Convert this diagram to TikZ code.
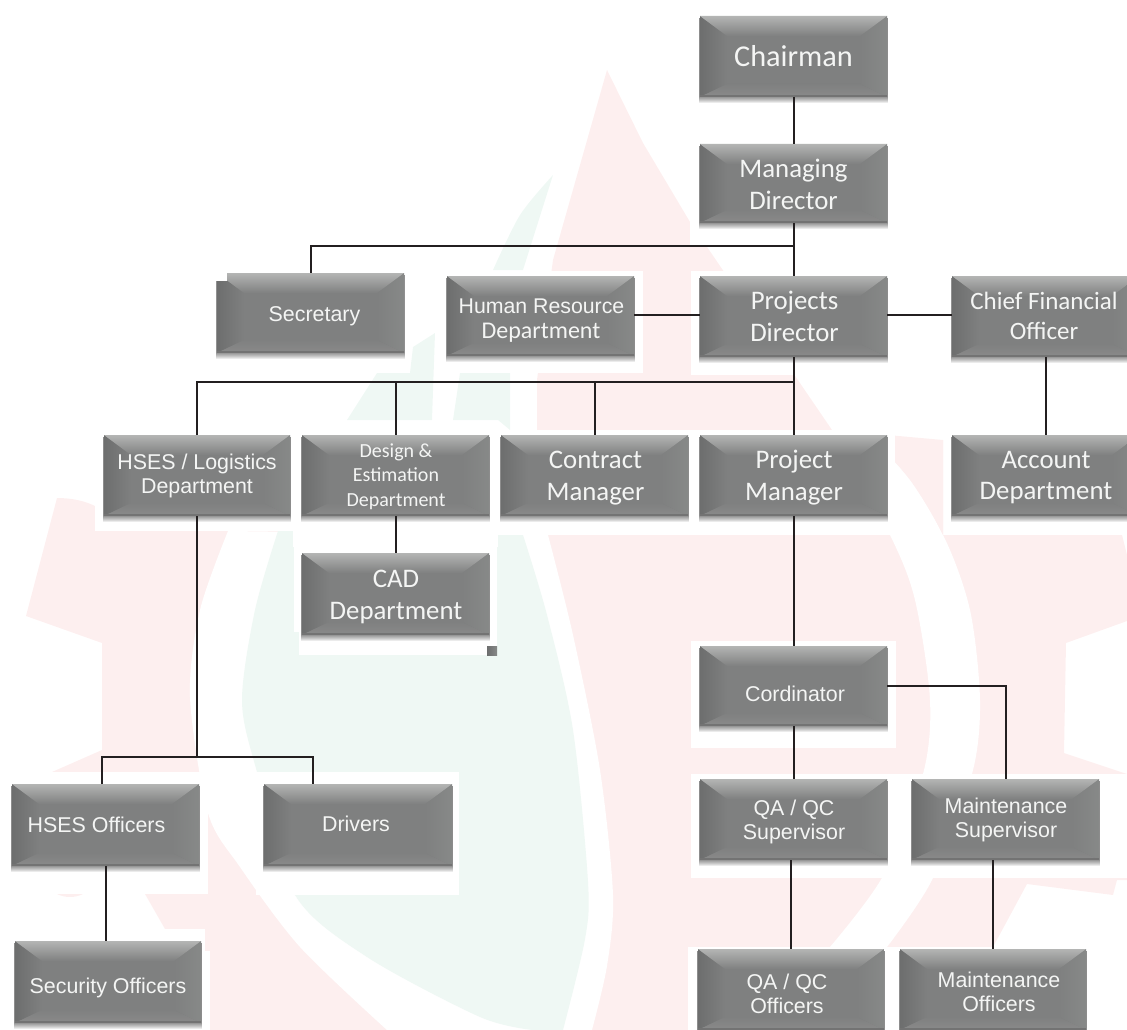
\documentclass[tikz,border=0pt]{standalone}
\usepackage{fontspec}
\setmainfont{Liberation Sans}
\newfontfamily\carl{Carlito}
\definecolor{wpink}{HTML}{FDEFEF}
\definecolor{wgreen}{HTML}{EFF8F4}
\definecolor{linec}{HTML}{231F20}
\definecolor{bfront}{HTML}{7F8080}
\definecolor{btop}{HTML}{B4B5B4}
\definecolor{bleft}{HTML}{6D6E6E}
\definecolor{bright}{HTML}{878988}
\definecolor{bbot}{HTML}{8A8A8A}
\definecolor{bedge}{HTML}{737373}
\definecolor{txtc}{HTML}{F4F5F4}
\newcommand{\gbox}[5]{%
  \foreach \k in {1,...,7}{\fill[black,opacity=.08] (#2-1,#3+2) rectangle (#4+1,#5+\k-1);}
  \fill[bfront] (#2,#3) rectangle (#4,#5);
  \shade[left color=bleft,right color=bfront] (#2,#3) -- (#2+27,#3+20) -- (#2+27,#5-13) -- (#2,#5) -- cycle;
  \shade[left color=bfront,right color=bright] (#4,#3) -- (#4-27,#3+20) -- (#4-27,#5-13) -- (#4,#5) -- cycle;
  \shade[top color=btop,bottom color=bfront] (#2,#3) -- (#4,#3) -- (#4-27,#3+20) -- (#2+27,#3+20) -- cycle;
  \shade[top color=bfront,bottom color=bbot] (#2,#5) -- (#4,#5) -- (#4-27,#5-13) -- (#2+27,#5-13) -- cycle;
  \fill[bedge] (#2,#5-2) rectangle (#4,#5);
  \node[boxframe,minimum width={(#4-#2)*1pt},minimum height={(#5-#3)*1pt}] (#1) at ({(#2+#4)/2},{(#3+#5)/2}) {};
}
\newcommand{\tx}[7]{\node[boxtext,font=#4\fontsize{#5}{#6}\selectfont] (#1) at (#2,#3) {#7};}
\tikzset{
  boxframe/.style={draw=none,inner sep=0pt,outer sep=0pt},
  boxtext/.style={text=txtc,inner sep=0pt,outer sep=0pt,align=center},
  link/.style={draw=linec,line width=2pt}
}
\begin{document}
\begin{tikzpicture}[x=1pt,y=-1pt]
\useasboundingbox (0,0) rectangle (1127,1030);
\clip (0,0) rectangle (1127,1030);
% watermark: outer pink figure
\fill[wpink] (607,70) -- (643,143) -- (690,222) -- (832,430) -- (943,440) -- (943,535) -- (1122,535) -- (1127,555) -- (1127,621) -- (1066,643) -- (1064,753) -- (1127,774) -- (1127,880) -- (1117,880) -- (1113,895) -- (1027,884) -- (993,947) -- (885,947) -- (688,947) -- (688,1030) -- (210,1030) -- (210,951) -- (205,951) -- (205,929) -- (165,929) -- (145,894) -- (130,772) -- (52,772) -- (102,750) -- (102,643) -- (26,616) -- (57,498) .. controls (72,498) and (85,501) .. (95,506) -- (95,531) -- (228,531) -- (537,430) -- (537,380) -- (553,260) -- cycle;
\fill[wpink] (57,894) .. controls (65,898) and (75,898) .. (83,894) -- cycle;
% white bands of the ring
\fill[white] plot[smooth] coordinates {(228,531) (200,610) (190,697) (208,813) (240,867) (300,947) (387,1030)} -- (592,1030) -- plot[smooth] coordinates {(592,1030) (607,966) (613,895) (600,770) (573,635) (548,535)} -- cycle;
\fill[white] plot[smooth] coordinates {(832,430) (895,462) (943,535) (970,610) (980,701) (972,774) (932,880) (887,947)} -- (830,947) -- plot[smooth] coordinates {(830,947) (883,876) (923,774) (930,700) (915,600) (890,535) (832,430)} -- cycle;
\fill[wpink] (895,440) -- (943,440) -- (943,535) -- plot[smooth] coordinates {(943,535) (922,495) (895,462)} -- cycle;
% green drop
\fill[wgreen] plot[smooth] coordinates {(278,531) (255,610) (242,701) (257,772) (295,895) (367,957) (480,1017) (533,1030)} -- (563,1030) -- plot[smooth] coordinates {(563,1030) (585,939) (588,882) (573,730) (547,615) (523,535)} -- cycle;
\fill[wgreen] plot[smooth] coordinates {(553,175) (520,215) (493,270)} -- (523,270) -- cycle;
\fill[wgreen] (435,333) -- (413,347) -- (410,373) -- (377,373) -- (347,420) -- (432,420) -- cycle;
\fill[wgreen] (460,373) -- (510,373) -- (510,430) -- (498,420) -- (453,420) -- cycle;
% white panels behind the boxes
\fill[white] (690,0) rectangle (900,245);
\fill[white] (691,271) rectangle (900,375);
\fill[white] (447,271) rectangle (643,373);
\fill[white] (95,430) rectangle (895,531);
\fill[white] (498,430) rectangle (895,535);
\fill[white] (293,430) rectangle (498,547);
\fill[white] (294,547) rectangle (497,632);
\fill[white] (299,632) rectangle (497,655);
\fill[white] (691,641) rectangle (896,748);
\fill[white] (691,774) rectangle (1127,878);
\fill[white] (688,947) rectangle (1127,1030);
\fill[white] (0,772) rectangle (208,894);
\fill[white] (256,772) rectangle (459,895);
\fill[white] (0,929) rectangle (205,1030);
\fill[white] (0,951) rectangle (210,1030);
% boxes
\gbox{chair}{700}{16}{887}{97}
\gbox{md}{700}{144}{887}{223}
\gbox{pd}{700}{276}{887}{357}
\gbox{cfo}{952}{276}{1139}{357}
\gbox{sec}{217}{273}{404}{353}
\fill[white] (214,268) rectangle (227,281);
\gbox{hr}{447}{276}{634}{356}
\gbox{hsesl}{104}{435}{290}{516}
\gbox{design}{302}{435}{489}{516}
\gbox{contract}{501}{435}{688}{516}
\gbox{pm}{700}{435}{887}{516}
\gbox{acct}{952}{435}{1139}{516}
\gbox{cad}{302}{553}{489}{635}
\gbox{cord}{700}{646}{887}{726}
\gbox{qasup}{700}{779}{887}{860}
\gbox{msup}{912}{779}{1099}{860}
\gbox{qaoff}{698}{949}{884}{1030}
\gbox{moff}{900}{949}{1086}{1030}
\gbox{hoff}{12}{784}{199}{866}
\gbox{drv}{264}{784}{452}{866}
\gbox{secoff}{15}{941}{201}{1023}
% stray fragment
\shade[left color=bleft,right color=bright] (487,646) rectangle (497,655);
% texts
\tx{tchair}{793.5}{56.5}{\carl}{30.3}{34}{Chairman}
\tx{tmd}{793.5}{184}{\carl}{26.8}{32}{Managing\\Director}
\tx{tpd}{794.5}{316.5}{\carl}{26.8}{31.5}{Projects\\Director}
\tx{tcfo}{1044}{316}{\carl}{25}{29.5}{Chief Financial\\Officer}
\tx{tsec}{314.5}{316}{}{21.4}{24}{Secretary}
\node[boxtext,font=\fontsize{21.3}{25}\selectfont] (thr) at (541.5,306.5) {Human Resource};
\node[boxtext,font=\carl\fontsize{24}{25}\selectfont] (thr2) at (541,332.5) {Department};
\tx{thsesl}{197}{476}{}{21.4}{24}{HSES / Logistics\\Department}
\tx{tdesign}{396}{476.5}{\carl}{20}{24.3}{Design \&\\Estimation\\Department}
\tx{tcontract}{595.5}{478}{\carl}{26.8}{32}{Contract\\Manager}
\tx{tpm}{794}{478}{\carl}{26.8}{32}{Project\\Manager}
\tx{tacct}{1046}{477.5}{\carl}{26.8}{31.5}{Account\\Department}
\tx{tcad}{396}{597}{\carl}{26.8}{31.5}{CAD\\Department}
\tx{tcord}{795}{694}{}{21.4}{24}{Cordinator}
\tx{tqasup}{794}{822}{}{21.4}{24}{QA / QC\\Supervisor}
\tx{tmsup}{1006}{820}{}{21.4}{24}{Maintenance\\Supervisor}
\tx{tqaoff}{787}{994}{}{21.4}{24}{QA / QC\\Officers}
\tx{tmoff}{999}{992}{}{21.4}{24}{Maintenance\\Officers}
\tx{thoff}{96.5}{825}{}{21.4}{24}{HSES Officers}
\tx{tdrv}{356}{824}{}{21.4}{24}{Drivers}
\tx{tsecoff}{108}{988}{}{21.4}{24}{Security Officers}
% junctions
\coordinate (jtop) at (md.south |- 0,246);
\coordinate (jrow) at (pd.south |- 0,382);
\coordinate (jlow) at (hsesl.south |- 0,757);
\coordinate (jcord) at (1007,686);
% connectors
\draw[link] (chair.south) -- (md.north);
\draw[link] (md.south) -- (pd.north);
\draw[link] (jtop) -| (sec.north);
\draw[link] (hr.east |- 0,315) -- (pd.west |- 0,315);
\draw[link] (pd.east |- 0,315) -- (cfo.west |- 0,315);
\draw[link] (pd.south) -- (pm.north);
\draw[link] (jrow) -| (hsesl.north);
\draw[link] (jrow -| design.north) -- (design.north);
\draw[link] (jrow -| contract.north) -- (contract.north);
\draw[link] (design.south) -- (cad.north);
\draw[link] (cfo.south) -- (acct.north);
\draw[link] (pm.south) -- (cord.north);
\draw[link] (cord.south) -- (qasup.north);
\draw[link] (cord.east) -- (jcord);
\draw[link] (cord.east -| msup.north) -- (msup.north);
\draw[link] (qaoff.north |- qasup.south) -- (qaoff.north);
\draw[link] (moff.north |- msup.south) -- (moff.north);
\draw[link] (hsesl.south) -- (jlow);
\draw[link] ([xshift=-3.5pt]hoff.north) |- (jlow);
\draw[link] (jlow) -| ([xshift=-45pt]drv.north);
\draw[link] (hoff.south) -- (hoff.south |- secoff.north);
\end{tikzpicture}
\end{document}
